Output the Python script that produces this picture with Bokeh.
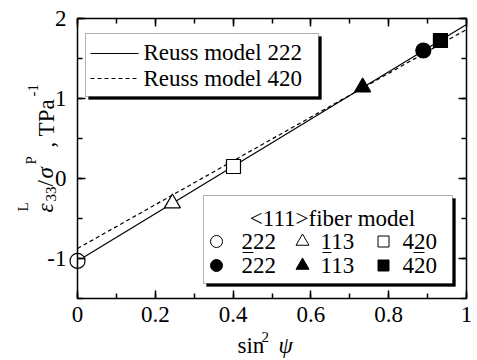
import math
from bokeh.plotting import figure
from bokeh.models import (Label, BoxAnnotation, LinearAxis, SingleIntervalTicker,
                          CustomJSTickFormatter, Range1d)
from bokeh.embed import file_html
from bokeh.resources import INLINE

# ---- data ----
line_psi = [0.0, 1.0]
reuss_222 = [-1.03, 1.925]
reuss_420 = [-0.875, 1.8625]

open_psi = [0.0, 0.244, 0.401]
open_eps = [-1.03, -0.31, 0.15]
open_marker = ["circle", "triangle", "square"]

filled_psi = [0.889, 0.733, 0.933]
filled_eps = [1.60, 1.14, 1.725]
filled_marker = ["circle", "triangle", "square"]

x_bounds = (0.0, 1.0)
y_bounds = (-1.5, 2.0)
x_tick_interval = 0.2
y_tick_interval = 1.0

FONT = "Liberation Serif"
FSN = 23
SUBN = 15

# plot area in page pixels: x 77..466, y 18..298
PX0, PX1, PY0, PY1 = 77, 466, 18, 298
W, H = 477, 360
kx = (x_bounds[1] - x_bounds[0]) / (PX1 - PX0)
ky = (y_bounds[1] - y_bounds[0]) / (PY1 - PY0)

p = figure(width=W, height=H,
           x_range=Range1d(x_bounds[0] - PX0 * kx, x_bounds[0] + (W - PX0) * kx),
           y_range=Range1d(y_bounds[1] - (H - PY0) * ky, y_bounds[1] + PY0 * ky),
           x_axis_location=None, y_axis_location=None,
           output_backend="svg", toolbar_location=None,
           min_border=0, min_border_left=0, min_border_right=0,
           min_border_top=0, min_border_bottom=0)
p.grid.visible = False
p.outline_line_color = None
p.background_fill_color = "white"
p.border_fill_color = "white"

xf = CustomJSTickFormatter(code="return tick.toFixed(1).replace(/\\.0$/, '');")
yf = CustomJSTickFormatter(code="return tick.toFixed(0);")
blank = CustomJSTickFormatter(code="return '';")


def make_axis(loc, bounds, interval, fmt, labels, standoff=10):
    ax = LinearAxis(fixed_location=loc, bounds=bounds,
                    ticker=SingleIntervalTicker(interval=interval, num_minor_ticks=2),
                    formatter=fmt)
    ax.axis_line_width = 1.5
    ax.major_tick_in = 8
    ax.major_tick_out = 0
    ax.minor_tick_in = 5
    ax.minor_tick_out = 0
    ax.major_tick_line_width = 1.5
    ax.minor_tick_line_width = 1.5
    ax.major_label_text_font = FONT
    ax.major_label_text_color = "black"
    ax.major_label_text_font_size = f"{FSN}px"
    ax.major_label_standoff = standoff if labels else 0
    return ax


p.add_layout(make_axis(x_bounds[0], y_bounds, y_tick_interval, yf, True, 11), "left")
p.add_layout(make_axis(y_bounds[0], x_bounds, x_tick_interval, xf, True, 8), "below")
p.add_layout(make_axis(y_bounds[1], x_bounds, x_tick_interval, blank, False), "above")
p.add_layout(make_axis(x_bounds[1], y_bounds, y_tick_interval, blank, False), "right")

# ---- data lines and points ----
p.line(line_psi, reuss_222, line_color="black", line_width=1.2)
p.line(line_psi, reuss_420, line_color="black", line_width=1.2, line_dash="4 3")

SIZES = {"circle": 15, "triangle": 16, "square": 14}
for xv, yv, m in zip(open_psi, open_eps, open_marker):
    p.scatter([xv], [yv], marker=m, size=SIZES[m], fill_color="white",
              line_color="black", line_width=1.2)
for xv, yv, m in zip(filled_psi, filled_eps, filled_marker):
    p.scatter([xv], [yv], marker=m, size=SIZES[m], fill_color="black",
              line_color="black", line_width=1.2)


# ---- helpers: page px -> data (layout only) ----
def dx(px):
    return x_bounds[0] + (px - PX0) * kx


def dy(py):
    return y_bounds[1] - (py - PY0) * ky


def lab(px, py, text, size=FSN, style="normal", rotated=False, align="left"):
    # (px, py) is the wanted baseline start; compensate renderer baseline shift
    s = 0.32 * size
    if rotated:
        px, angle = px - s, math.pi / 2
    else:
        py, angle = py - s, 0.0
    p.add_layout(Label(x=dx(px), y=dy(py), text=text, text_font=FONT,
                       text_font_size=f"{size}px", text_font_style=style,
                       text_color="black", angle=angle, text_align=align,
                       text_baseline="alphabetic"))


# ---- legend 1 (Reuss models) ----
p.add_layout(BoxAnnotation(left=dx(88), right=dx(321), top=dy(36), bottom=dy(99),
                           fill_color="black", fill_alpha=1, line_color="black",
                           level="underlay"))
p.add_layout(BoxAnnotation(left=dx(85), right=dx(318), top=dy(33), bottom=dy(96),
                           fill_color="white", fill_alpha=1, line_color="black",
                           line_width=1, level="underlay"))
p.line([dx(90), dx(138)], [dy(53), dy(53)], line_color="black", line_width=1.2)
p.line([dx(90), dx(138)], [dy(78), dy(78)], line_color="black", line_width=1.2,
       line_dash="4 3")
lab(143, 59, "Reuss model 222")
lab(143, 85, "Reuss model 420")

# ---- legend 2 (<111> fiber model) ----
p.add_layout(BoxAnnotation(left=dx(206), right=dx(455), top=dy(198), bottom=dy(286),
                           fill_color="black", fill_alpha=1, line_color="black",
                           level="underlay"))
p.add_layout(BoxAnnotation(left=dx(203), right=dx(452), top=dy(195), bottom=dy(283),
                           fill_color="white", fill_alpha=1, line_color="black",
                           line_width=1, level="underlay"))
lab(332, 225, "<111>fiber model", align="center")
mk_x = [216, 302, 383]
mk_sz = [12, 13, 11]
for mx, m, s in zip(mk_x, open_marker, mk_sz):
    p.scatter([dx(mx)], [dy(241)], marker=m, size=s, fill_color="white",
              line_color="black", line_width=1)
    p.scatter([dx(mx)], [dy(265)], marker=m, size=s, fill_color="black",
              line_color="black", line_width=1)
for tx, t in zip([241, 320, 402], ["222", "113", "420"]):
    lab(tx, 248, t)
    lab(tx, 272, t)
for u0, u1 in [(242, 253), (322, 331), (413, 424)]:
    p.line([dx(u0), dx(u1)], [dy(252), dy(252)], line_color="black", line_width=1)

# ---- axis labels ----
lab(52, 212, "ε", style="italic", rotated=True)
lab(27, 211, "L", size=SUBN, rotated=True)
lab(55, 201, "33", size=SUBN, rotated=True)
lab(52, 186, "/", rotated=True)
lab(52, 178, "σ", style="italic", rotated=True)
lab(35, 164, "P", size=SUBN, rotated=True)
lab(53, 147, ", TPa", rotated=True)
lab(37, 96, "-1", size=SUBN, rotated=True)

lab(237, 352, "sin")
lab(261, 341, "2", size=SUBN)
lab(278, 352, "ψ", style="italic")

open("out.html", "w").write(file_html(p, INLINE))
